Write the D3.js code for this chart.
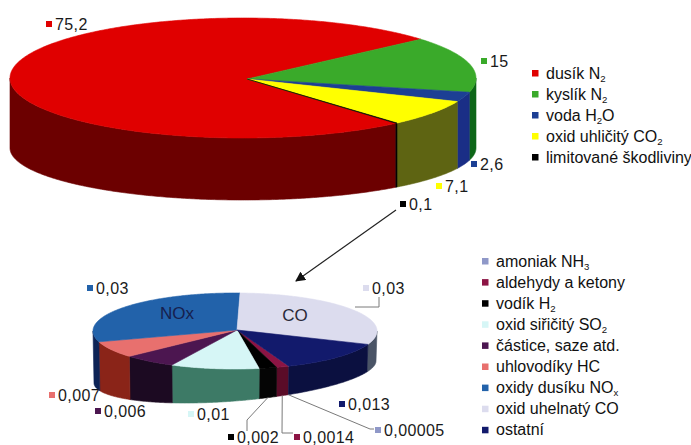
<!DOCTYPE html>
<html><head><meta charset="utf-8">
<script src="https://cdn.jsdelivr.net/npm/d3@7"></script>
<style>
body{margin:0;background:#fff}
text{font-family:"Liberation Sans",Arial,Helvetica,sans-serif}
</style>
</head><body>
<svg id="c" width="691" height="445"></svg>
<script>
// ---------- DATA ----------
const mainCategories = ["dusík N_2", "kyslík N_2", "voda H_2O", "oxid uhličitý CO_2", "limitované škodliviny"];
const mainValues = [75.2, 15, 2.6, 7.1, 0.1];
const mainLabels = ["75,2", "15", "2,6", "7,1", "0,1"];

const detailCategories = ["amoniak NH_3", "aldehydy a ketony", "vodík H_2", "oxid siřičitý SO_2",
  "částice, saze atd.", "uhlovodíky HC", "oxidy dusíku NO_x", "oxid uhelnatý CO", "ostatní"];
const detailValues = [0.00005, 0.0014, 0.002, 0.01, 0.006, 0.007, 0.03, 0.03, 0.013];
const detailLabels = ["0,00005", "0,0014", "0,002", "0,01", "0,006", "0,007", "0,03", "0,03", "0,013"];
const detailInner = ["", "", "", "", "", "", "NOx", "CO", ""];

// ---------- STYLE / LAYOUT ----------
const mainTop  = ["#e00000", "#3aaa2a", "#1c3f94", "#ffff00", "#000000"];
const mainSide = ["#6c0000", "#0d6618", "#1a2e86", "#5e6412", "#000000"];
const detailTop  = ["#8f98c8", "#8c1444", "#000000", "#d6f6f6", "#4c1650", "#e8706e", "#2262aa", "#dcdcee", "#121a6c"];
const detailSide = ["#5a6090", "#5a0c28", "#050505", "#3d7a66", "#1c0a22", "#8a2418", "#0e2456", "#4a5466", "#0b1040"];

const mainGeom = {cx:243, cy:78, rx:233, ry:60, ax:247, ay:79, rxb:233, cyb:148, ryb:52, skew:0, start:139};
const detailGeom = {cx:235, cy:331, rx:142, ry:38, ax:237, ay:330, rxb:141, cyb:372, ryb:29, skew:-11, start:157.7};

const mainLabelPos = [[55,24],[490,61],[480,164],[445,186],[409,204]];
const detailLabelPos = [[384,430],[303,437],[237,437],[197,414],[104,411],[58,395],[96,288],[372,288],[348,404]];
const detailInnerPos = [null,null,null,null,null,null,[177,313],[295,315],null];
const detailLeaders = [
  {i:0, pts:[[370,429],[374,429]]},
  {i:1, pts:[[282,433],[293,433]]},
  {i:2, pts:[[247,420],[247,431]]},
  {i:7, pts:[[379,297],[379,307],[355,307]], noStart:true}
];
const arrow = {from:[396,210], to:[296,281]};

const FS_LABEL = 16, FS_LEGEND = 16;

// ---------- DRAW ----------
const svg = d3.select("#c");
const rad = d => d*Math.PI/180;

function pt(e, a, bottom){
  if(bottom) return [e.cx + e.rxb*Math.sin(a), e.cyb - e.ryb*Math.cos(a) + e.skew*Math.sin(a)];
  return [e.cx + e.rx*Math.sin(a), e.cy - e.ry*Math.cos(a)];
}
function arcPts(e, a0, a1, bottom){
  const n = Math.max(2, Math.ceil(Math.abs(a1-a0)/0.01));
  return d3.range(n+1).map(i => pt(e, a0+(a1-a0)*i/n, bottom));
}
const line = d3.line();

function drawPie(values, tops, sides, e){
  const pie = d3.pie().sort(null).value(d=>d)
    .startAngle(rad(e.start)).endAngle(rad(e.start)+2*Math.PI);
  const arcs = pie(values);
  const g = svg.append("g");
  arcs.forEach((a,i)=>{
    for(let k=-1;k<=2;k++){
      const lo = Math.PI/2 + 2*Math.PI*k, hi = 3*Math.PI/2 + 2*Math.PI*k;
      const b0 = Math.max(a.startAngle, lo), b1 = Math.min(a.endAngle, hi);
      if(b1>b0){
        const p = arcPts(e,b0,b1,false).concat(arcPts(e,b1,b0,true));
        g.append("path").attr("d", line(p)+"Z")
          .attr("fill", sides[i]).attr("stroke", sides[i]).attr("stroke-width",0.6);
      }
    }
  });
  arcs.forEach((a,i)=>{
    const p = [[e.ax,e.ay]].concat(arcPts(e,a.startAngle,a.endAngle,false));
    g.append("path").attr("d", line(p)+"Z")
      .attr("fill", tops[i]).attr("stroke", tops[i]).attr("stroke-width",0.6);
  });
  return arcs;
}

function richText(sel, str, size){
  const parts = str.split(/_(.)/);
  let shifted = false;
  parts.forEach((p,j)=>{
    if(!p) return;
    if(j%2===1){
      sel.append("tspan").attr("font-size", size*0.6).attr("dy", size*0.2).text(p);
      shifted = true;
    } else {
      const t = sel.append("tspan").text(p);
      if(shifted){ t.attr("dy", -size*0.2); shifted = false; }
    }
  });
}

function dataLabel(x, y, txt, color){
  svg.append("rect").attr("x", x-9).attr("y", y-3).attr("width",6).attr("height",6).attr("fill", color);
  svg.append("text").attr("x", x).attr("y", y).attr("dy","0.35em")
    .attr("font-size", FS_LABEL).attr("letter-spacing", 0.4).attr("fill","#1a1a1a").text(txt);
}

function legend(cats, colors, x, y0, step){
  cats.forEach((c,i)=>{
    const y = y0 + i*step;
    svg.append("rect").attr("x", x-14).attr("y", y-3).attr("width",6.5).attr("height",6.5).attr("fill", colors[i]);
    const t = svg.append("text").attr("x", x).attr("y", y).attr("dy","0.35em")
      .attr("font-size", FS_LEGEND).attr("fill","#111");
    richText(t, c, FS_LEGEND);
  });
}

drawPie(mainValues, mainTop, mainSide, mainGeom);
mainLabels.forEach((l,i)=> dataLabel(mainLabelPos[i][0], mainLabelPos[i][1], l, mainTop[i]));
legend(mainCategories, mainTop, 546, 73, 21);

const dArcs = drawPie(detailValues, detailTop, detailSide, detailGeom);
detailInner.forEach((t,i)=>{
  if(!t) return;
  svg.append("text").attr("x", detailInnerPos[i][0]).attr("y", detailInnerPos[i][1]).attr("dy","0.35em")
    .attr("text-anchor","middle").attr("font-size",17)
    .attr("fill", i===6 ? "#16204e" : "#2a2a38").text(t);
});
detailLeaders.forEach(L=>{
  const a = dArcs[L.i];
  const mid = (a.startAngle+a.endAngle)/2;
  const pts = L.noStart ? L.pts : [pt(detailGeom, mid, true)].concat(L.pts);
  svg.append("path").attr("d", line(pts)).attr("fill","none").attr("stroke","#7a7a7a").attr("stroke-width",1);
});
detailLabels.forEach((l,i)=> dataLabel(detailLabelPos[i][0], detailLabelPos[i][1], l, detailTop[i]));
legend(detailCategories, detailTop, 496, 261, 21.1);

svg.append("defs").append("marker").attr("id","ah").attr("viewBox","0 0 10 10")
  .attr("refX",9).attr("refY",5).attr("markerWidth",10).attr("markerHeight",10)
  .attr("markerUnits","userSpaceOnUse").attr("orient","auto")
  .append("path").attr("d","M0,0L10,5L0,10Z").attr("fill","#111");
svg.append("line").attr("x1",arrow.from[0]).attr("y1",arrow.from[1])
  .attr("x2",arrow.to[0]).attr("y2",arrow.to[1])
  .attr("stroke","#222").attr("stroke-width",1.2).attr("marker-end","url(#ah)");
</script>
</body></html>
